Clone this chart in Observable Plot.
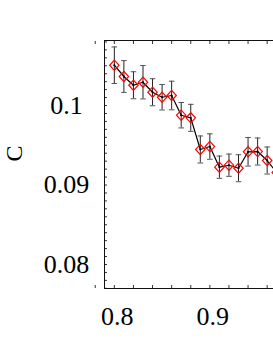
<!DOCTYPE html>
<html>
<head>
<meta charset="utf-8">
<script src="https://cdn.jsdelivr.net/npm/d3@7"></script>
<script src="https://cdn.jsdelivr.net/npm/@observablehq/plot@0.6"></script>
<style>
  html, body { margin: 0; padding: 0; background: #fff; overflow: hidden; width: 273px; height: 353px; }
  #chart { position: relative; width: 273px; height: 353px; overflow: hidden; }
  #chart svg { display: block; max-width: none !important; width: 300px; height: 353px; }
  #chart svg text { font-family: "Liberation Serif", "Times New Roman", serif; font-weight: normal; }
</style>
</head>
<body>
<div id="chart"></div>
<script>
// Data
const xValues = [0.80, 0.81, 0.82, 0.83, 0.84, 0.85, 0.86, 0.87, 0.88, 0.89, 0.90, 0.91, 0.92, 0.93, 0.94, 0.95, 0.96, 0.97];
const cValues = [0.10507, 0.10365, 0.10255, 0.10293, 0.10167, 0.10104, 0.10126, 0.09878, 0.09845, 0.09447, 0.09484, 0.09224, 0.09249, 0.09211, 0.09418, 0.09421, 0.09308, 0.09157];
const cErrors = [0.0023, 0.0020, 0.0017, 0.0021, 0.0017, 0.0016, 0.0018, 0.0016, 0.0017, 0.0017, 0.0016, 0.0014, 0.0014, 0.0017, 0.0018, 0.0017, 0.0017, 0.0017];
const xTickLabels = [0.8, 0.9];
const yTickLabels = [0.08, 0.09, 0.1];
const xMinorTicks = [0.78, 0.80, 0.82, 0.84, 0.86, 0.88, 0.90, 0.92, 0.94, 0.96, 0.98, 1.00];
const yMinorTicks = d3.range(77, 109).map(i => i / 1000);
const yLabel = "C";

const data = xValues.map((x, i) => ({x, c: cValues[i], e: cErrors[i]}));

const capSymbol = {
  draw(context) {
    const r = 2.8;
    context.moveTo(-r, 0);
    context.lineTo(r, 0);
  }
};
const diamondSymbol = {
  draw(context) {
    const w = 4.7, h = 5.1;
    context.moveTo(0, -h);
    context.lineTo(w, 0);
    context.lineTo(0, h);
    context.lineTo(-w, 0);
    context.closePath();
  }
};

const font = "Liberation Serif";

const chart = Plot.plot({
  width: 300,
  height: 353,
  marginLeft: 104,
  marginRight: 0,
  marginTop: 40,
  marginBottom: 65,
  style: {fontFamily: font, background: "#fff", maxWidth: "none"},
  x: {domain: [0.7897, 0.9949], axis: null},
  y: {domain: [0.07698, 0.10818], axis: null},
  marks: [
    // inward ticks
    Plot.axisX({anchor: "bottom", ticks: xMinorTicks, tickSize: -3, tickFormat: () => "", label: null, stroke: "#333"}),
    Plot.axisX({anchor: "top", ticks: xMinorTicks, tickSize: -3, tickFormat: () => "", label: null, stroke: "#333"}),
    Plot.axisY({anchor: "left", ticks: yMinorTicks, tickSize: -3, tickFormat: () => "", label: null, stroke: "#333"}),
    Plot.frame({stroke: "#111", strokeWidth: 1}),
    // tick labels
    Plot.text(xTickLabels, {x: d => d, frameAnchor: "bottom", dy: 28, dx: 3, text: d => String(d), fontSize: 26, fill: "#000", lineAnchor: "middle"}),
    Plot.text(yTickLabels, {y: d => d, frameAnchor: "left", dx: -38, text: d => String(d), fontSize: 26, fill: "#000", textAnchor: "middle"}),
    Plot.text([yLabel], {frameAnchor: "left", dx: -90, dy: -3, text: d => d, rotate: -90, fontSize: 24, fill: "#000"}),
    // error bars
    Plot.ruleX(data, {x: "x", y1: d => d.c - d.e, y2: d => d.c + d.e, stroke: "#222", strokeWidth: 1}),
    Plot.dot(data, {x: "x", y: d => d.c - d.e, symbol: capSymbol, stroke: "#555", strokeWidth: 1}),
    Plot.dot(data, {x: "x", y: d => d.c + d.e, symbol: capSymbol, stroke: "#555", strokeWidth: 1}),
    // line and markers
    Plot.line(data, {x: "x", y: "c", stroke: "#000", strokeWidth: 1.2}),
    Plot.dot(data, {x: "x", y: "c", symbol: diamondSymbol, stroke: "#ff0000", strokeWidth: 1.2, fill: "none"}),
    Plot.dot(data, {x: "x", y: "c", r: 1, fill: "#000"})
  ]
});
document.getElementById("chart").appendChild(chart);
</script>
</body>
</html>
